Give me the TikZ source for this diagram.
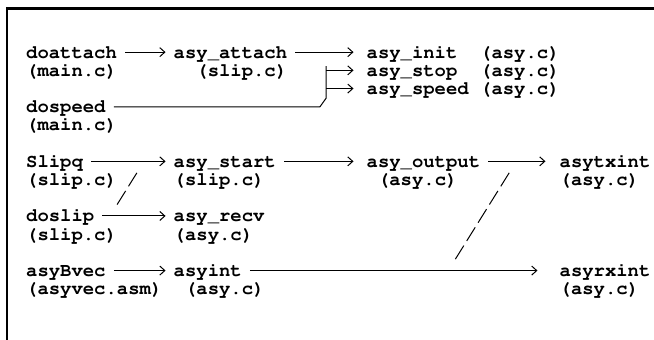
\documentclass[tikz,border=0pt]{standalone}
\usepackage[T1]{fontenc}
\usepackage{courier}
\usetikzlibrary{arrows.meta}
\newcommand{\gap}{8pt}

\tikzset{
  fn/.style={anchor=base west, inner sep=0pt, text height=11.7pt, text depth=0pt,
    font=\ttfamily\bfseries\fontsize{18.9pt}{18.2pt}\selectfont},
  call/.style={line width=1pt, -{Straight Barb[length=5pt,width=9pt]},
    shorten <=\gap, shorten >=\gap},
  branch/.style={call, shorten <=0pt},
  wire/.style={line width=1pt, shorten <=\gap},
  slashes/.style={line width=1pt, dash pattern=on 16pt off 5.45pt,
    shorten <=13.5pt, shorten >=13.5pt},
  frame/.style={line width=2.6pt}
}

\begin{document}
\begin{tikzpicture}[x=11.35pt, y=-18.2pt]
\useasboundingbox (-2.29,-3.187) rectangle (55.33,15.49);
\draw[frame] (-1.67,16) |- (56,-2.72);

% attach / speed
\node (doattach) at (0,0) [fn] {doattach};
\node (doattach-src) at (0,1) [fn] {(main.c)};
\node (asyattach) at (13,0) [fn] {asy\_attach};
\node (asyattach-src) at (15,1) [fn] {(slip.c)};
\node (asyinit) at (30,0) [fn] {asy\_init};
\node (asyinit-src) at (40,0) [fn] {(asy.c)};
\node (asystop) at (30,1) [fn] {asy\_stop};
\node (asystop-src) at (40,1) [fn] {(asy.c)};
\node (asyspeed) at (30,2) [fn] {asy\_speed};
\node (asyspeed-src) at (40,2) [fn] {(asy.c)};
\node (dospeed) at (0,3) [fn] {dospeed};
\node (dospeed-src) at (0,4) [fn] {(main.c)};

\coordinate (bartop) at (26.45,0.45);
\coordinate (barbot) at (26.45,2.2);
\coordinate (kink) at (25.9,2.68);

\draw[call] (doattach) -- (asyattach);
\draw[call, shorten >=13pt] (asyattach) -- (asyinit);
\draw[wire] (dospeed) -- (kink) -- (barbot) -- (bartop);
\draw[branch, shorten >=13pt] (bartop |- asystop) -- (asystop);
\draw[branch, shorten >=13pt] (bartop |- asyspeed) -- (asyspeed);

% output side
\node (slipq) at (0,6) [fn] {Slipq};
\node (slipq-src) at (0,7) [fn] {(slip.c)};
\node (asystart) at (13,6) [fn] {asy\_start};
\node (asystart-src) at (13,7) [fn] {(slip.c)};
\node (asyoutput) at (30,6) [fn] {asy\_output};
\node (asyoutput-src) at (31,7) [fn] {(asy.c)};
\node (asytxint) at (47,6) [fn] {asytxint};
\node (asytxint-src) at (47,7) [fn] {(asy.c)};
\node (doslip) at (0,9) [fn] {doslip};
\node (doslip-src) at (0,10) [fn] {(slip.c)};
\node (asyrecv) at (13,9) [fn] {asy\_recv};
\node (asyrecv-src) at (13,10) [fn] {(asy.c)};

% interrupts
\node (asybvec) at (0,12) [fn] {asyBvec};
\node (asybvec-src) at (0,13) [fn] {(asyvec.asm)};
\node (asyint) at (13,12) [fn] {asyint};
\node (asyint-src) at (14,13) [fn] {(asy.c)};
\node (asyrxint) at (47,12) [fn] {asyrxint};
\node (asyrxint-src) at (47,13) [fn] {(asy.c)};

\draw[call] (slipq) -- (asystart);
\draw[call, shorten >=13pt] (asystart) -- (asyoutput);
\draw[call, shorten >=14pt] (asyoutput) -- (asytxint);
\draw[call] (doslip) -- (asyrecv);
\draw[call] (asybvec) -- (asyint);
\draw[call, shorten >=22pt] (asyint) -- (asyrxint);

\coordinate (sl-a) at (7.4,8.68);
\coordinate (sl-b) at (10.4,5.68);
\coordinate (sr-a) at (37.2,11.68);
\coordinate (sr-b) at (43.2,5.68);
\draw[slashes] (sl-a) -- (sl-b);
\draw[slashes] (sr-a) -- (sr-b);
\end{tikzpicture}
\end{document}
